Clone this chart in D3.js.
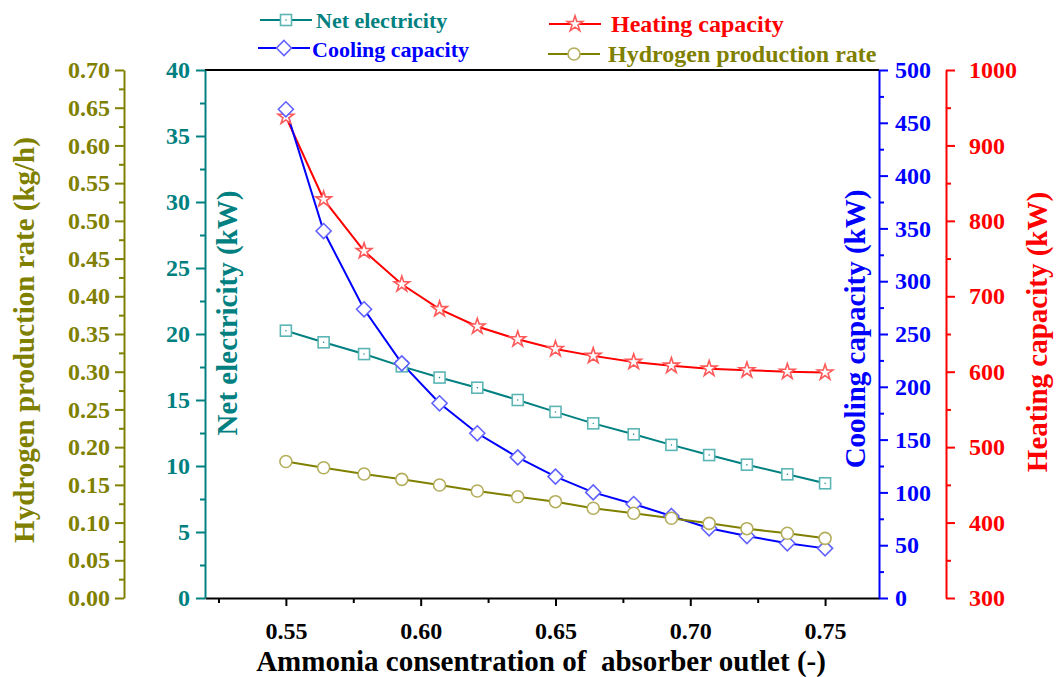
<!DOCTYPE html>
<html>
<head>
<meta charset="utf-8">
<script src="https://cdn.jsdelivr.net/npm/d3@7"></script>
<style>
  html, body { margin: 0; padding: 0; background: #fff; }
  svg text { font-family: "Liberation Serif", "Times New Roman", serif; font-weight: bold; }
</style>
</head>
<body>
<svg id="chart" width="1056" height="677"></svg>
<script>
// ---------------- data ----------------
const ammoniaConc = [0.550, 0.564, 0.579, 0.593, 0.607, 0.621, 0.636, 0.650, 0.664, 0.679, 0.693, 0.707, 0.721, 0.736, 0.750];
const netElectricity = [20.25, 19.37, 18.48, 17.55, 16.7, 15.93, 15.0, 14.1, 13.23, 12.4, 11.6, 10.83, 10.1, 9.37, 8.69];
const coolingCapacity = [462.8, 347.5, 273.4, 222.2, 184.4, 156.0, 133.2, 115.0, 100.0, 89.0, 77.7, 66.0, 58.7, 51.8, 47.0];
const heatingCapacity = [938, 828.5, 760, 716, 683, 660, 643, 630, 621, 613, 608, 604, 602, 600, 599];
const hydrogenRate = [0.181, 0.1727, 0.1644, 0.1573, 0.1498, 0.1419, 0.1343, 0.1277, 0.119, 0.1123, 0.1057, 0.099, 0.0919, 0.0858, 0.0791];

const xTicks = [0.55, 0.60, 0.65, 0.70, 0.75];
const xMinorTicks = [0.525, 0.575, 0.625, 0.675, 0.725];
const netTicks = [0, 5, 10, 15, 20, 25, 30, 35, 40];
const netMinorTicks = [2.5, 7.5, 12.5, 17.5, 22.5, 27.5, 32.5, 37.5];
const coolTicks = [0, 50, 100, 150, 200, 250, 300, 350, 400, 450, 500];
const coolMinorTicks = [25, 75, 125, 175, 225, 275, 325, 375, 425, 475];
const heatTicks = [300, 400, 500, 600, 700, 800, 900, 1000];
const heatMinorTicks = [350, 450, 550, 650, 750, 850, 950];
const h2Ticks = [0, 0.05, 0.10, 0.15, 0.20, 0.25, 0.30, 0.35, 0.40, 0.45, 0.50, 0.55, 0.60, 0.65, 0.70];
const h2MinorTicks = [0.025, 0.075, 0.125, 0.175, 0.225, 0.275, 0.325, 0.375, 0.425, 0.475, 0.525, 0.575, 0.625, 0.675];

const xTitle = "Ammonia consentration of\u00A0 absorber outlet (-)";
const netTitle = "Net electricity (kW)";
const coolTitle = "Cooling capacity (kW)";
const heatTitle = "Heating capacity (kW)";
const h2Title = "Hydrogen production rate (kg/h)";

// ---------------- layout ----------------
const L = 205, R = 879, T = 70, B = 598;
const C = {
  teal: "#008080", tealMk: "#5cb5b5",
  blue: "#0000ff", blueMk: "#6262ff",
  red: "#ff0000", redMk: "#ff5a5a",
  olive: "#808000", oliveMk: "#b4ae5c"
};

const svg = d3.select("#chart");
const x = d3.scaleLinear().domain([0.52, 0.77]).range([L, R]);
const yNet = d3.scaleLinear().domain([0, 40]).range([B, T]);
const yCool = d3.scaleLinear().domain([0, 500]).range([B, T]);
const yHeat = d3.scaleLinear().domain([300, 1000]).range([B, T]);
const yH2 = d3.scaleLinear().domain([0, 0.70]).range([B, T]);

const tickFont = 24;

function styleAxis(g, color, minor) {
  g.select(".domain").attr("stroke", color).attr("stroke-width", 2);
  g.selectAll(".tick line").attr("stroke", color).attr("stroke-width", 2);
  g.selectAll(".tick text").attr("fill", color).attr("font-size", tickFont)
    .attr("font-family", null);
  if (minor) g.select(".domain").remove();
}

// top border
svg.append("line").attr("x1", L).attr("x2", R).attr("y1", T).attr("y2", T)
  .attr("stroke", "#000").attr("stroke-width", 2);

// x axis
svg.append("g").attr("transform", `translate(0,${B})`)
  .call(d3.axisBottom(x).tickValues(xMinorTicks).tickSize(5).tickFormat(""))
  .call(g => styleAxis(g, "#000", true));
svg.append("g").attr("transform", `translate(0,${B})`)
  .call(d3.axisBottom(x).tickValues(xTicks).tickSize(8).tickPadding(16).tickSizeOuter(0).tickFormat(d3.format(".2f")))
  .call(g => styleAxis(g, "#000", false));

// net electricity axis (left, teal)
svg.append("g").attr("transform", `translate(${L},0)`)
  .call(d3.axisLeft(yNet).tickValues(netMinorTicks).tickSize(5).tickFormat(""))
  .call(g => styleAxis(g, C.teal, true));
svg.append("g").attr("transform", `translate(${L},0)`)
  .call(d3.axisLeft(yNet).tickValues(netTicks).tickSize(9).tickPadding(6).tickSizeOuter(0).tickFormat(d3.format("d")))
  .call(g => styleAxis(g, C.teal, false));

// hydrogen axis (far left, olive)
const h2X = 124;
svg.append("g").attr("transform", `translate(${h2X},0)`)
  .call(d3.axisLeft(yH2).tickValues(h2MinorTicks).tickSize(5).tickFormat(""))
  .call(g => styleAxis(g, C.olive, true));
svg.append("g").attr("transform", `translate(${h2X},0)`)
  .call(d3.axisLeft(yH2).tickValues(h2Ticks).tickSize(9).tickPadding(5).tickSizeOuter(0).tickFormat(d3.format(".2f")))
  .call(g => styleAxis(g, C.olive, false));

// cooling axis (right, blue)
svg.append("g").attr("transform", `translate(${R},0)`)
  .call(d3.axisRight(yCool).tickValues(coolMinorTicks).tickSize(5).tickFormat(""))
  .call(g => styleAxis(g, C.blue, true));
svg.append("g").attr("transform", `translate(${R},0)`)
  .call(d3.axisRight(yCool).tickValues(coolTicks).tickSize(9).tickPadding(7).tickSizeOuter(0).tickFormat(d3.format("d")))
  .call(g => styleAxis(g, C.blue, false));

// heating axis (far right, red)
const heatX = 946;
svg.append("g").attr("transform", `translate(${heatX},0)`)
  .call(d3.axisRight(yHeat).tickValues(heatMinorTicks).tickSize(5).tickFormat(""))
  .call(g => styleAxis(g, C.red, true));
svg.append("g").attr("transform", `translate(${heatX},0)`)
  .call(d3.axisRight(yHeat).tickValues(heatTicks).tickSize(9).tickPadding(14).tickSizeOuter(0).tickFormat(d3.format("d")))
  .call(g => styleAxis(g, C.red, false));

// axis titles
svg.append("text").attr("x", (L + R) / 2 - 1).attr("y", 671).attr("text-anchor", "middle")
  .attr("font-size", 29).attr("fill", "#000").text(xTitle);
function vTitle(text, bx, cy, color) {
  svg.append("text").attr("transform", `translate(${bx},${cy}) rotate(-90)`)
    .attr("text-anchor", "middle").attr("font-size", 29).attr("fill", color).text(text);
}
vTitle(h2Title, 34, 340, C.olive);
vTitle(netTitle, 237, 313, C.teal);
vTitle(coolTitle, 865, 329, C.blue);
vTitle(heatTitle, 1047, 332, C.red);

// ---------------- markers ----------------
const shapes = {
  square: g => {
    g.append("rect").attr("x", -5.5).attr("y", -5.5).attr("width", 11).attr("height", 11);
    g.append("circle").attr("r", 0.7).attr("class", "dot");
  },
  diamond: g => g.append("path").attr("d", "M0,-7.5L7.5,0L0,7.5L-7.5,0Z"),
  star: g => g.append("path").attr("d", d3.symbol(d3.symbolStar, 75)()),
  circle: g => g.append("circle").attr("r", 6)
};

const series = [
  { name: "Net electricity", values: netElectricity, y: yNet, color: C.teal, mk: C.tealMk, shape: "square" },
  { name: "Heating capacity", values: heatingCapacity, y: yHeat, color: C.red, mk: C.redMk, shape: "star" },
  { name: "Cooling capacity", values: coolingCapacity, y: yCool, color: C.blue, mk: C.blueMk, shape: "diamond" },
  { name: "Hydrogen production rate", values: hydrogenRate, y: yH2, color: C.olive, mk: C.oliveMk, shape: "circle" }
];

function drawMarker(g, s) {
  shapes[s.shape](g);
  g.selectAll("rect,path,circle:not(.dot)").attr("fill", "#fff").attr("stroke", s.mk).attr("stroke-width", 1.6);
  g.selectAll(".dot").attr("fill", s.color);
}

const drawOrder = [0, 1, 2, 3];
drawOrder.forEach(i => {
  const s = series[i];
  const pts = ammoniaConc.map((c, j) => [x(c), s.y(s.values[j])]);
  svg.append("path").attr("d", d3.line()(pts)).attr("fill", "none")
    .attr("stroke", s.color).attr("stroke-width", 2);
});
drawOrder.forEach(i => {
  const s = series[i];
  ammoniaConc.forEach((c, j) => {
    const g = svg.append("g").attr("transform", `translate(${x(c)},${s.y(s.values[j])})`);
    drawMarker(g, s);
  });
});

// ---------------- legend ----------------
const legendItems = [
  { s: 0, x1: 260, y: 20, tx: 316, base: 27.5, fs: 22 },
  { s: 2, x1: 258, y: 48, tx: 312, base: 56.5, fs: 22 },
  { s: 1, x1: 549, y: 24, tx: 611, base: 32, fs: 24 },
  { s: 3, x1: 548, y: 54, tx: 608, base: 62, fs: 24 }
];
legendItems.forEach(it => {
  const s = series[it.s];
  svg.append("line").attr("x1", it.x1).attr("x2", it.x1 + 52).attr("y1", it.y).attr("y2", it.y)
    .attr("stroke", s.color).attr("stroke-width", 2);
  const g = svg.append("g").attr("transform", `translate(${it.x1 + 26},${it.y})`);
  drawMarker(g, s);
  svg.append("text").attr("x", it.tx).attr("y", it.base).attr("font-size", it.fs)
    .attr("fill", s.color).text(s.name);
});
</script>
</body>
</html>
